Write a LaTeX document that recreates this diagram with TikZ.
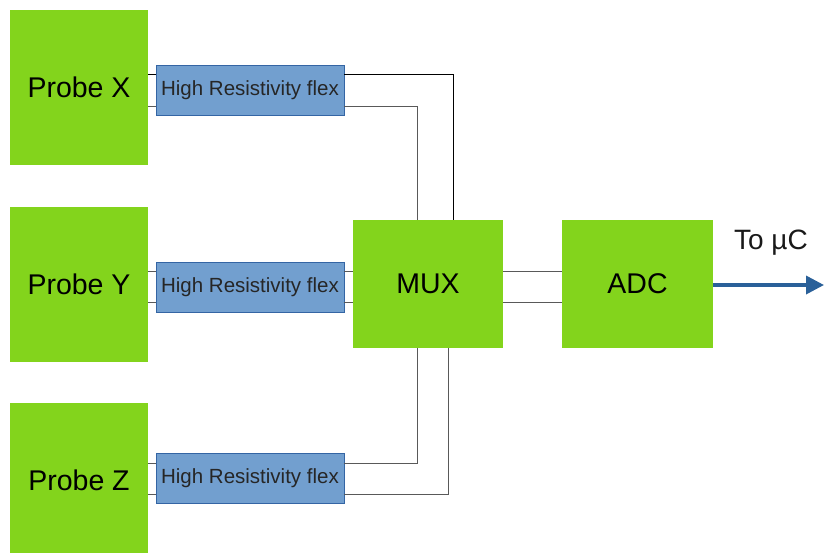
\documentclass[tikz,border=0pt]{standalone}
\usepackage{fontspec}
\setmainfont{Liberation Sans}
\usetikzlibrary{arrows.meta}
\definecolor{blockgreen}{HTML}{83D41C}
\definecolor{flexfill}{HTML}{729FCF}
\definecolor{flexdraw}{HTML}{3465A4}
\definecolor{arrowblue}{HTML}{2A6099}
\tikzset{
  block/.style={fill=blockgreen, draw=none, inner sep=0pt, outer sep=0pt, font=\fontsize{28.5}{32}\selectfont},
  flexbox/.style={fill=flexfill, draw=flexdraw, line width=0.8pt, inner sep=0pt, outer sep=0pt,
    minimum width=188pt, minimum height=50pt, font=\fontsize{20.5}{24}\selectfont, text=black!85},
  wire/.style={draw=black!65, line width=0.9pt},
}
\begin{document}
\begin{tikzpicture}[x=1pt, y=-1pt]
\useasboundingbox (0,0) rectangle (824,552);
% probes
\node[block, minimum width=138pt, minimum height=155pt] (px) at (79,87.5) {Probe X};
\node[block, minimum width=138pt, minimum height=155pt] (py) at (79,284.5) {Probe Y};
\node[block, minimum width=138pt, minimum height=155pt] (pz) at (79,480.5) {Probe Z};
% flex
\node[flexbox] (fx) at (250,90) {High Resistivity flex};
\node[flexbox] (fy) at (250,287) {High Resistivity flex};
\node[flexbox] (fz) at (250,478) {High Resistivity flex};
% mux, adc
\node[block, minimum width=150pt, minimum height=128pt] (mux) at (428,284) {MUX};
\node[block, minimum width=151pt, minimum height=128pt] (adc) at (637.5,284) {ADC};
% wires probe X
\draw[wire, draw=black] (px.east |- 0,74) -- (fx.west |- 0,74);
\draw[wire] (px.east |- 0,106) -- (fx.west |- 0,106);
\draw[wire, draw=black] (fx.east |- 0,74) -| (mux.north -| 453,0);
\draw[wire] (fx.east |- 0,106) -| (mux.north -| 417,0);
% wires probe Y
\draw[wire] (py.east |- 0,271) -- (fy.west |- 0,271);
\draw[wire] (py.east |- 0,302) -- (fy.west |- 0,302);
\draw[wire] (fy.east |- 0,271) -- (mux.west |- 0,271);
\draw[wire] (fy.east |- 0,302) -- (mux.west |- 0,302);
% wires probe Z
\draw[wire] (pz.east |- 0,463) -- (fz.west |- 0,463);
\draw[wire] (pz.east |- 0,494) -- (fz.west |- 0,494);
\draw[wire] (fz.east |- 0,463) -| (mux.south -| 417,0);
\draw[wire] (fz.east |- 0,494) -| (mux.south -| 448,0);
% mux to adc
\draw[wire] (mux.east |- 0,271) -- (adc.west |- 0,271);
\draw[wire] (mux.east |- 0,302) -- (adc.west |- 0,302);
% output
\coordinate (out) at (824,285);
\draw[draw=arrowblue, line width=3.5pt, -{Triangle[length=18pt, width=18pt]}] (adc.east |- 0,285) -- (out);
\node[font=\fontsize{28}{32}\selectfont, text=black!90] (lbl) at (771,243) {To µC};
\end{tikzpicture}
\end{document}
